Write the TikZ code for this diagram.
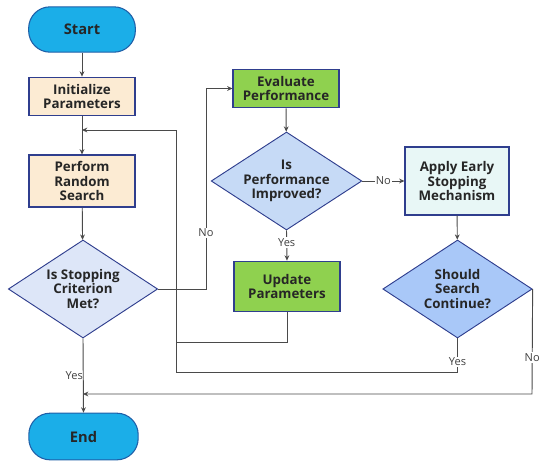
\documentclass[tikz,border=0pt]{standalone}
\usepackage{fontspec}
\setmainfont{Open Sans}
\usetikzlibrary{arrows.meta,shapes.geometric}
\definecolor{startblue}{HTML}{1BAEE8}
\definecolor{startedge}{HTML}{1F5FA8}
\definecolor{beige}{HTML}{FCEBD3}
\definecolor{navy}{HTML}{2F3E8E}
\definecolor{dlight}{HTML}{DDE6F8}
\definecolor{dmid}{HTML}{C6DAF6}
\definecolor{ddark}{HTML}{A9C8F8}
\definecolor{green1}{HTML}{8FD14F}
\definecolor{cyanl}{HTML}{E8F7F6}
\definecolor{lineg}{HTML}{4A4A4A}
\tikzset{
  terminal/.style={draw=startedge, fill=startblue, line width=0.8pt, rounded corners=16pt,
    minimum width=#1, minimum height=34pt, inner sep=0pt, font=\fontsize{11}{13}\selectfont\bfseries, text=black!85},
  procbox/.style={draw=navy, line width=0.8pt, inner sep=0pt, align=center,
    font=\fontsize{10}{11}\selectfont\bfseries, text=black!85},
  decision/.style={diamond, draw=navy, line width=0.7pt, inner sep=0pt,
    minimum width=112pt, minimum height=73.5pt},
  dtext/.style={align=center, inner sep=0pt, font=\fontsize{10}{11}\selectfont\bfseries, text=black!85},
  conn/.style={draw=lineg, line width=0.7pt},
  arr/.style={conn, -{Stealth[length=4pt,width=3.6pt]}},
  lbl/.style={font=\fontsize{8.3}{10}\selectfont, text=black!75, inner sep=1pt},
  lblw/.style={lbl, fill=white}
}
\begin{document}
\begin{tikzpicture}[x=0.75pt,y=-0.75pt]
\useasboundingbox (0,0) rectangle (550,468);
% nodes
\node[terminal=80pt] (start) at (82,29.5) {Start};
\node[procbox, fill=beige, minimum width=79.5pt, minimum height=29pt] (init) at (82,96.5) {Initialize\\Parameters};
\node[procbox, fill=beige, minimum width=79.5pt, minimum height=39pt] (perform) at (82,181) {Perform\\Random\\Search};
\node[decision, fill=dlight, label={[dtext]center:Is Stopping\\Criterion\\Met?}] (d1) at (83,289) {};
\node[terminal=82pt, minimum height=35pt] (end) at (83.5,436.5) {End};
\node[procbox, fill=green1, minimum width=79.5pt, minimum height=29pt] (eval) at (286,88.5) {Evaluate\\Performance};
\node[decision, fill=dmid, minimum width=113pt, label={[dtext]center:Is\\Performance\\Improved?}] (d2) at (286.5,181) {};
\node[procbox, fill=green1, minimum width=79.5pt, minimum height=38pt] (update) at (287,286.5) {Update\\Parameters};
\node[procbox, fill=cyanl, minimum width=78pt, minimum height=51pt] (apply) at (457,181) {Apply Early\\Stopping\\Mechanism};
\node[decision, fill=ddark, minimum width=112pt, label={[dtext]center:Should\\Search\\Continue?}] (d3) at (457.5,289) {};
% junction coordinates
\coordinate (j1) at (82,130);
\coordinate (j2) at (83,394);
\coordinate (loopc) at (176,372);
\coordinate (updc) at (176,342);
\coordinate (noc) at (206,289);
\coordinate (d3c) at (457.5,372);
\coordinate (d3r) at (532,394);
% connectors
\draw[arr] (start) -- (init);
\draw[arr] (init) -- (perform);
\draw[arr] (perform) -- (d1);
\draw[arr] (d1.south) -- (end.north) node[lbl, pos=0.5, anchor=east, xshift=1pt] {Yes};
\draw[arr] (d1.east) -- (noc) |- (eval.west) node[lblw, pos=0.14] {No};
\draw[arr] (eval) -- (d2);
\draw[arr] (d2.south) -- (update.north) node[lblw, pos=0.4] {Yes};
\draw[arr] (d2.east) -- (apply.west) node[lblw, midway] {No};
\draw[arr] (apply) -- (d3);
\draw[arr] (d3.south) -- (d3c) node[lblw, pos=0.7] {Yes} -- (loopc) |- (j1);
\draw[conn] (update.south) |- (updc);
\draw[arr] (d3.east) -- (d3r) node[lblw, pos=0.65] {No} -- (j2);
\end{tikzpicture}
\end{document}
